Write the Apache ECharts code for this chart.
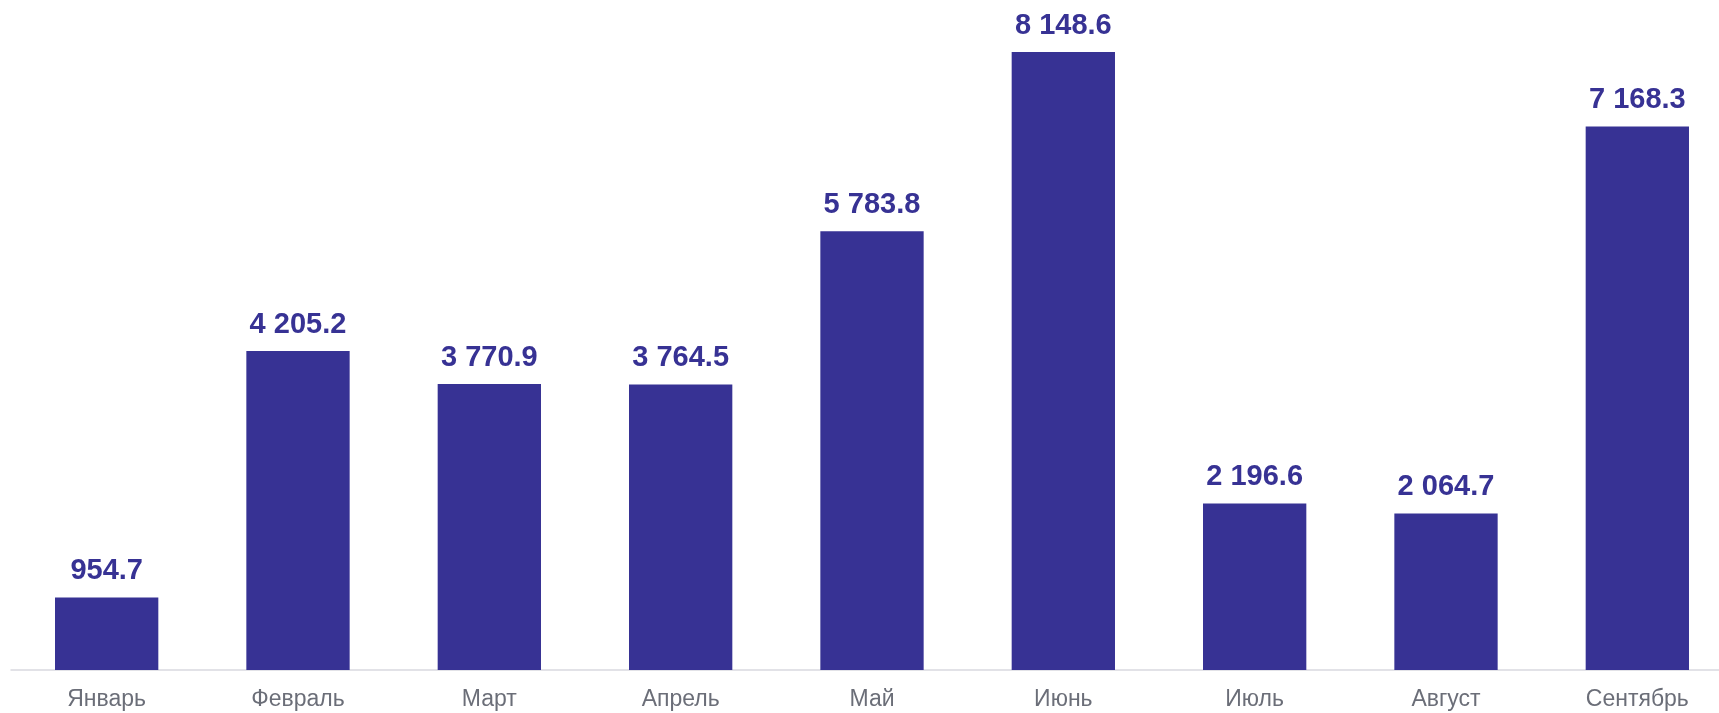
<!DOCTYPE html>
<html><head><meta charset="utf-8">
<script src="https://cdn.jsdelivr.net/npm/echarts@6/dist/echarts.min.js"></script>
<style>html,body{margin:0;padding:0;background:#fff;overflow:hidden}#c{width:1733px;height:713px}</style>
</head><body><div id="c"></div>
<script>
const categories = ['Январь','Февраль','Март','Апрель','Май','Июнь','Июль','Август','Сентябрь'];
const values = [954.7, 4205.2, 3770.9, 3764.5, 5783.8, 8148.6, 2196.6, 2064.7, 7168.3];

function fmt(v){
  const parts = v.toFixed(1).split('.');
  parts[0] = parts[0].replace(/\B(?=(\d{3})+(?!\d))/g, ' ');
  return parts.join('.');
}

const chart = echarts.init(document.getElementById('c'));
chart.setOption({
  animation: false,
  grid: {left: 11, right: 0, top: 20, height: 650, containLabel: false},
  xAxis: {
    type: 'category', data: categories,
    axisLine: {show: true, lineStyle: {color: '#d9d9e0', width: 1.5}},
    axisTick: {show: false},
    axisLabel: {color: '#6b6e78', fontSize: 23, fontFamily: 'Liberation Sans, Arial, sans-serif', margin: 18}
  },
  yAxis: {
    type: 'value', min: 0, max: 8571,
    show: false, splitLine: {show: false}
  },
  series: [{
    type: 'bar', data: values, barWidth: '54%',
    itemStyle: {color: '#373294'},
    label: {
      show: true, position: 'top', distance: 12,
      color: '#373294', fontSize: 29, fontWeight: 'bold',
      fontFamily: 'Liberation Sans, Arial, sans-serif',
      formatter: p => fmt(p.value)
    }
  }]
});
</script></body></html>
